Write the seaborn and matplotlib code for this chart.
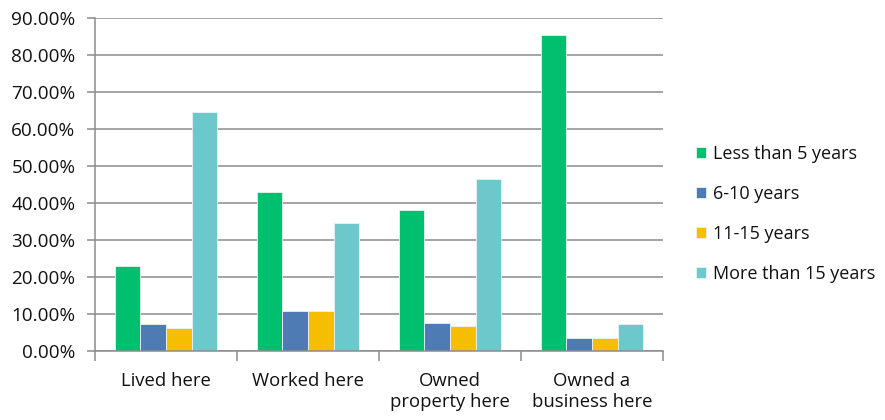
import matplotlib
matplotlib.use("Agg")
import matplotlib.pyplot as plt
import seaborn as sns
import pandas as pd
from matplotlib.ticker import PercentFormatter, FixedLocator

categories = ["Lived here", "Worked here", "Owned\nproperty here", "Owned a\nbusiness here"]
series = ["Less than 5 years", "6-10 years", "11-15 years", "More than 15 years"]
less_than_5 = [23.0, 42.9, 38.1, 85.3]
six_to_ten = [7.3, 10.9, 7.7, 3.5]
eleven_to_fifteen = [6.3, 10.9, 6.8, 3.5]
more_than_15 = [64.5, 34.6, 46.6, 7.2]
colors = ["#00BF6F", "#4F7BB4", "#F6BE00", "#6DC8CC"]

values = [less_than_5, six_to_ten, eleven_to_fifteen, more_than_15]
rows = []
for s, vals in zip(series, values):
    for c, v in zip(categories, vals):
        rows.append({"category": c, "series": s, "value": v})
df = pd.DataFrame(rows)

sns.set_theme(style="white")
plt.rcParams["font.family"] = ["Open Sans", "DejaVu Sans"]

fig = plt.figure(figsize=(8.85, 4.2), dpi=100)
ax = fig.add_axes([95 / 885, 1 - 351 / 420, (663 - 95) / 885, (351 - 18) / 420])

sns.barplot(data=df, x="category", y="value", hue="series", order=categories,
            hue_order=series, palette=colors, width=0.725, saturation=1,
            edgecolor="#E8F4F0", linewidth=0.6, ax=ax, legend=True)

ax.set_ylim(0, 90)
ax.set_xlim(-0.5, len(categories) - 0.5)
ax.yaxis.set_major_locator(FixedLocator([i * 10 for i in range(10)]))
ax.yaxis.set_major_formatter(PercentFormatter(decimals=2))
ax.grid(axis="y", color="#8C8C8C", linewidth=1.1)
ax.set_axisbelow(True)

for side in ["top", "right"]:
    ax.spines[side].set_visible(False)
for side in ["left", "bottom"]:
    ax.spines[side].set_color("#8C8C8C")
    ax.spines[side].set_linewidth(1.1)

ax.set_xlabel("")
ax.set_ylabel("")
ax.tick_params(axis="y", which="major", left=True, length=6, width=1.1,
               color="#8C8C8C", labelsize=13.6, labelcolor="#111111", pad=8)
ax.tick_params(axis="x", which="major", bottom=False, labelsize=13.3,
               labelcolor="#111111", pad=9)
ax.set_xticks([i - 0.5 for i in range(len(categories) + 1)], minor=True)
ax.tick_params(axis="x", which="minor", bottom=True, length=7, width=1.1,
               color="#8C8C8C")
for lbl in ax.get_xticklabels():
    lbl.set_linespacing(1.2)

handles, labels = ax.get_legend_handles_labels()
ax.get_legend().remove()
fig.legend(handles, labels, loc="center left", bbox_to_anchor=(692 / 885, 1 - 214 / 420),
           frameon=False, fontsize=13.0, handlelength=0.6, handleheight=0.6,
           handletextpad=0.35, labelspacing=1.22, labelcolor="#111111",
           borderaxespad=0, borderpad=0.2)

fig.savefig("out.png", dpi=100)
